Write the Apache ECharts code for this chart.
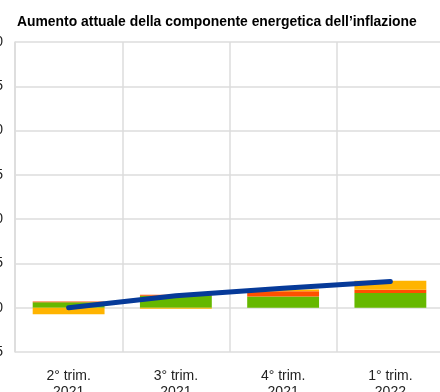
<!DOCTYPE html>
<html><head><meta charset="utf-8">
<script src="https://cdn.jsdelivr.net/npm/echarts@6/dist/echarts.min.js"></script>
<style>html,body{margin:0;padding:0;background:#fff}#c{width:440px;height:392px}</style>
</head><body><div id="c"></div>
<script>
const categories = ['2° trim.\n2021', '3° trim.\n2021', '4° trim.\n2021', '1° trim.\n2022'];
const greenValues = [0.62, 1.35, 1.27, 1.66];
const redValues = [0.08, 0.1, 0.58, 0.38];
const yellowValues = [-0.75, -0.12, 0.2, 1.0];
const lineValues = [0.0, 1.35, 2.2, 2.97];
const yTicks = { min: -5, max: 30, interval: 5 };

const chart = echarts.init(document.getElementById('c'));
const font = '"Liberation Sans", Arial, sans-serif';
chart.setOption({
  animation: false,
  title: {
    text: 'Aumento attuale della componente energetica dell’inflazione',
    left: 12, top: 10,
    textStyle: { fontFamily: font, fontSize: 13.9, fontWeight: 'bold', color: '#000' }
  },
  grid: { left: 15, right: -4, top: 42, bottom: 40, containLabel: false, outerBoundsMode: 'none' },
  xAxis: {
    type: 'category', data: categories, boundaryGap: true,
    axisLine: { show: false }, axisTick: { show: false },
    splitLine: { show: true, lineStyle: { color: '#dcdcdc', width: 1.5 } },
    axisLabel: { margin: 16, fontFamily: font, fontSize: 14, color: '#222', lineHeight: 16 }
  },
  yAxis: {
    type: 'value', min: yTicks.min, max: yTicks.max, interval: yTicks.interval,
    axisLine: { show: true, lineStyle: { color: '#dcdcdc', width: 1.5 } },
    axisTick: { show: false },
    splitLine: { show: true, lineStyle: { color: '#dcdcdc', width: 1.5 } },
    axisLabel: { margin: 12, fontFamily: font, fontSize: 14, color: '#222' }
  },
  series: [
    { type: 'bar', stack: 's', data: greenValues, barWidth: '67%', itemStyle: { color: '#66b800' } },
    { type: 'bar', stack: 's', data: redValues, itemStyle: { color: '#ff5000' } },
    { type: 'bar', stack: 's', data: yellowValues, itemStyle: { color: '#ffb400' } },
    { type: 'line', data: lineValues, showSymbol: false, symbol: 'none', z: 5,
      lineStyle: { color: '#063a99', width: 5, cap: 'round' } }
  ]
});
</script></body></html>
